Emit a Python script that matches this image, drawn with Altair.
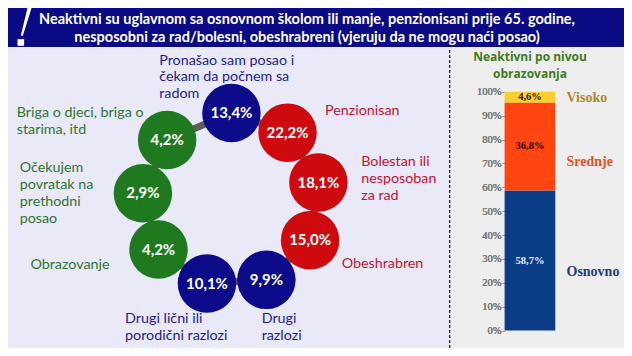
import math
import altair as alt
import pandas as pd

# ---------------- data ----------------
TITLE_LINES = [
    "Neaktivni su uglavnom sa osnovnom školom ili manje, penzionisani prije 65. godine,",
    "nesposobni za rad/bolesni, obeshrabreni (vjeruju da ne mogu naći posao)",
]

REASON_LABELS = [
    "Pronašao sam posao i\nčekam da počnem sa\nradom",
    "Penzionisan",
    "Bolestan ili\nnesposoban\nza rad",
    "Obeshrabren",
    "Drugi\nrazlozi",
    "Drugi lični ili\nporodični razlozi",
    "Obrazovanje",
    "Očekujem\npovratak na\nprethodni\nposao",
    "Briga o djeci, briga o\nstarima, itd",
]
REASON_SHARES = [13.4, 22.2, 18.1, 15.0, 9.9, 10.1, 4.2, 2.9, 4.2]
REASON_GROUPS = ["ostalo", "zdravlje", "zdravlje", "zdravlje", "ostalo",
                 "ostalo", "obaveze", "obaveze", "obaveze"]

EDU_TITLE = "Neaktivni po nivou\nobrazovanja"
EDU_LEVELS = ["Osnovno", "Srednje", "Visoko"]
EDU_SHARES = [58.7, 36.8, 4.6]
Y_TICKS = list(range(0, 101, 10))

# ---------------- layout / style ----------------
SX, SY = 0.975, 0.955
BANNER_H = 39
LEFT_W, RIGHT_W, LOWER_H = 441, 175, 301
FONT = "Lato"

GROUP_DOMAIN = ["ostalo", "zdravlje", "obaveze"]
CIRCLE_COLORS = ["#0c0c8a", "#cf0a0e", "#1f7a1f"]
TEXT_COLORS = ["#1d1d8f", "#c41230", "#2f7532"]

RING_CX, RING_CY, RING_R = 229, 201, 91      # reference-pixel units
RING_START, RING_STEP = 90.0, -39.2           # degrees
CIRCLE_D = 58.5                               # circle diameter, px
LABEL_FS = 14.3
LABEL_ANCHORS = [(155, 55), (325, 108), (362, 161), (342, 268), (260, 326),
                 (120, 326), (23, 269), (12, 168), (9, 110)]   # first-line centre
LINE_H = 16.9

# exclamation icon (banner pixels)
ICON_PATH_X = [21.5, 14.0]
ICON_PATH_Y = [0.0, 27.0]
ICON_PATH_W = [9.0, 3.0]

EDU_COLORS = ["#0b3d86", "#ff4611", "#fdcf2b"]
EDU_VALUE_COLORS = ["#e8eeff", "#3a0000", "#1a1a00"]
EDU_LABEL_COLORS = ["#1f3d7a", "#ee4c1c", "#b38728"]
EDU_LABEL_Y = [24.4, 70.4, 97.6]
RTITLE_FS, RTITLE_LH = 12.0, 16.4


def fmt(v):
    return f"{v:.1f}".replace(".", ",") + "%"


# ---------------- banner ----------------
bx = alt.Scale(domain=[0, LEFT_W + RIGHT_W], range=[0, LEFT_W + RIGHT_W], nice=False, zero=False)
by = alt.Scale(domain=[0, BANNER_H], range=[0, BANNER_H], nice=False, zero=False)

banner_df = pd.DataFrame({"t": TITLE_LINES, "k": list(range(len(TITLE_LINES)))})
banner_text = alt.Chart(banner_df).mark_text(
    font=FONT, fontWeight="bold", fontSize=14.5, color="white", baseline="middle",
    align="center"
).encode(
    text="t:N",
    x=alt.value(299),
    y=alt.Y("k:Q", scale=alt.Scale(domain=[0, 1], range=[12.4, 29.8]), axis=None),
)
icon_df = pd.DataFrame({"x": ICON_PATH_X, "y": ICON_PATH_Y, "w": ICON_PATH_W, "o": [0, 1]})
icon_bar = alt.Chart(icon_df).mark_trail(color="white", clip=True).encode(
    x=alt.X("x:Q", scale=bx, axis=None),
    y=alt.Y("y:Q", scale=by, axis=None),
    size=alt.Size("w:Q", scale=alt.Scale(type="identity"), legend=None),
    order="o:Q",
)
icon_dot = alt.Chart(pd.DataFrame({"x": [12.8], "y": [34.5]})).mark_square(
    color="white", size=44, opacity=1
).encode(x=alt.X("x:Q", scale=bx, axis=None), y=alt.Y("y:Q", scale=by, axis=None))

banner = alt.layer(icon_bar, icon_dot).resolve_scale(y="shared")
banner = alt.layer(banner, banner_text).resolve_scale(y="independent").properties(
    width=LEFT_W + RIGHT_W, height=BANNER_H,
    view=alt.ViewBackground(fill="#0a0a84", stroke=None),
)

# ---------------- left panel (ring) ----------------
rows = []
for i, (lab, v, g) in enumerate(zip(REASON_LABELS, REASON_SHARES, REASON_GROUPS)):
    a = math.radians(RING_START + RING_STEP * i)
    rows.append({"i": i, "x": RING_CX + RING_R * math.cos(a),
                 "y": RING_CY - RING_R * math.sin(a), "g": g, "v": fmt(v)})
ring_df = pd.DataFrame(rows)
path_df = pd.concat([ring_df, ring_df.iloc[[0]].assign(i=len(ring_df))], ignore_index=True)

top_shift = 0.49 * LABEL_FS / SY   # first-line centre -> text top (reference px)
lab_df = pd.DataFrame({
    "x": [p[0] for p in LABEL_ANCHORS],
    "y": [p[1] - top_shift for p in LABEL_ANCHORS],
    "t": REASON_LABELS,
    "g": REASON_GROUPS,
})

xs = alt.Scale(domain=[0, 452], range=[0, LEFT_W], zero=False, nice=False)
ys = alt.Scale(domain=[40.8, 356], range=[0, LOWER_H], zero=False, nice=False)
X = lambda: alt.X("x:Q", scale=xs, axis=None)
Y = lambda: alt.Y("y:Q", scale=ys, axis=None)

connector = alt.Chart(path_df).mark_line(color="#5e5e5e", strokeWidth=7).encode(
    x=X(), y=Y(), order="i:Q")
circles = alt.Chart(ring_df).mark_circle(size=CIRCLE_D ** 2, opacity=1).encode(
    x=X(), y=Y(),
    color=alt.Color("g:N", scale=alt.Scale(domain=GROUP_DOMAIN, range=CIRCLE_COLORS), legend=None))
circle_txt = alt.Chart(ring_df).mark_text(
    font=FONT, fontWeight="bold", fontSize=15, color="white", baseline="middle"
).encode(x=X(), y=Y(), text="v:N")
labels = alt.Chart(lab_df).mark_text(
    font=FONT, fontSize=LABEL_FS, align="left", baseline="top",
    lineBreak="\n", lineHeight=LINE_H
).encode(
    x=X(), y=Y(), text="t:N",
    color=alt.Color("g:N", scale=alt.Scale(domain=GROUP_DOMAIN, range=TEXT_COLORS), legend=None))

left = alt.layer(labels, connector, circles, circle_txt).resolve_scale(
    color="independent").properties(
    width=LEFT_W, height=LOWER_H,
    view=alt.ViewBackground(fill="#e9e9f8", stroke=None))

# ---------------- right panel (stacked bar) ----------------
lo, hi, acc = [], [], 0.0
for v in EDU_SHARES:
    lo.append(acc)
    acc += v
    hi.append(acc)
edu_df = pd.DataFrame({"lvl": EDU_LEVELS, "lo": lo, "hi": hi,
                       "mid": [(a + b) / 2 for a, b in zip(lo, hi)],
                       "val": [fmt(v) for v in EDU_SHARES], "ly": EDU_LABEL_Y, "bar": "sve"})

yb = alt.Scale(domain=[0, 100], range=[283.6, 44.8], zero=False, nice=False, clamp=True)
xb = alt.Scale(range=[55.6, 106.3], paddingInner=0, paddingOuter=0)
yaxis = alt.Axis(orient="left", offset=-55.6, values=Y_TICKS, labelExpr="datum.value + '%'",
                 domain=False, grid=False, ticks=True, tickSize=2.5, tickColor="#9a9a9a",
                 labelColor="#7c7c7c", labelFont="Liberation Serif", labelFontSize=10.5,
                 labelPadding=1, title=None)

bars = alt.Chart(edu_df).mark_bar().encode(
    x=alt.X("bar:N", scale=xb, axis=None),
    y=alt.Y("lo:Q", scale=yb, axis=yaxis), y2="hi:Q",
    color=alt.Color("lvl:N", scale=alt.Scale(domain=EDU_LEVELS, range=EDU_COLORS), legend=None))
vals = alt.Chart(edu_df).mark_text(
    font="Liberation Serif", fontWeight="bold", fontSize=10.5, baseline="middle"
).encode(
    x=alt.X("bar:N", scale=xb, axis=None),
    y=alt.Y("mid:Q", scale=yb, axis=yaxis), text="val:N",
    color=alt.Color("lvl:N", scale=alt.Scale(domain=EDU_LEVELS, range=EDU_VALUE_COLORS), legend=None))
lvl_labels = alt.Chart(edu_df).mark_text(
    font="Liberation Serif", fontWeight="bold", fontSize=14, align="left", baseline="middle"
).encode(
    x=alt.value(117.5),
    y=alt.Y("ly:Q", scale=yb, axis=yaxis), text="lvl:N",
    color=alt.Color("lvl:N", scale=alt.Scale(domain=EDU_LEVELS, range=EDU_LABEL_COLORS), legend=None))

rtitle = alt.Chart(pd.DataFrame({"t": [EDU_TITLE]})).mark_text(
    font="Open Sans", fontWeight="bold", fontSize=RTITLE_FS, color="#3f7a1f", baseline="top",
    lineBreak="\n", lineHeight=RTITLE_LH
).encode(text="t:N", x=alt.value(81), y=alt.value(11.0 - 0.49 * RTITLE_FS))
divider = alt.Chart(pd.DataFrame({"a": [0]})).mark_rule(
    color="#1b1b6b", strokeDash=[3, 2], strokeWidth=1.3
).encode(x=alt.value(0.7), y=alt.value(3), y2=alt.value(LOWER_H))

right = alt.layer(bars, vals, lvl_labels, rtitle, divider).resolve_scale(
    color="independent", y="independent").properties(
    width=RIGHT_W, height=LOWER_H,
    view=alt.ViewBackground(fill="#eeeeee", stroke=None))

chart = alt.vconcat(
    banner,
    alt.hconcat(left, right, spacing=0),
    spacing=0,
).properties(padding=0, background="white").configure_view(stroke=None)

chart.save("out.html", embed_options={"renderer": "svg", "actions": False})
